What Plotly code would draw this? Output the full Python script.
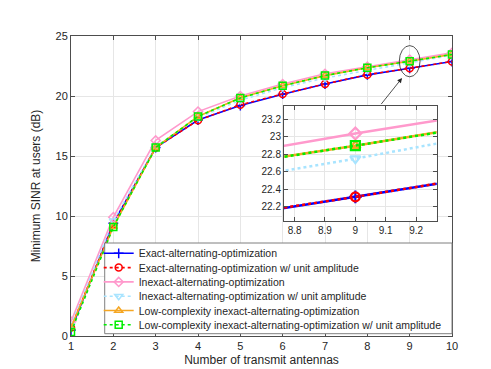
import plotly.graph_objects as go

# number of transmit antennas
antennas = [1, 2, 3, 4, 5, 6, 7, 8, 9, 10]

# minimum SINR (dB) per scheme
exact = [0.5, 9.4, 15.7, 18.0, 19.2, 20.15, 21.0, 21.76, 22.31, 22.87]
exact_unit = [0.7, 9.3, 15.7, 17.97, 19.27, 20.17, 21.0, 21.78, 22.31, 22.88]
inexact = [1.2, 9.9, 16.3, 18.7, 20.0, 21.0, 21.85, 22.44, 23.04, 23.6]
inexact_unit = [0.9, 9.6, 15.8, 18.2, 19.65, 20.7, 21.5, 22.15, 22.75, 23.4]
lowc = [0.7, 9.1, 15.7, 18.3, 19.85, 20.86, 21.7, 22.36, 22.9, 23.47]
lowc_unit = [0.33, 9.08, 15.7, 18.3, 19.83, 20.85, 21.7, 22.35, 22.9, 23.46]

names = [
    "Exact-alternating-optimization",
    "Exact-alternating-optimization w/ unit amplitude",
    "Inexact-alternating-optimization",
    "Inexact-alternating-optimization w/ unit amplitude",
    "Low-complexity inexact-alternating-optimization",
    "Low-complexity inexact-alternating-optimization w/ unit amplitude",
]
series = [exact, exact_unit, inexact, inexact_unit, lowc, lowc_unit]
colors = ["#0000ff", "#ff0000", "#ff99cc", "#a8e4ff", "#f5a623", "#00ee00"]
dashes = ["solid", "dot", "solid", "dot", "solid", "dot"]
symbols = ["cross-thin", "circle-open", "diamond-open", "triangle-down-open",
           "triangle-up-open", "square-open"]

fig = go.Figure()
legend_layout = {}
for i, (name, ys, c, d, s) in enumerate(zip(names, series, colors, dashes, symbols)):
    lg = "legend" if i == 0 else f"legend{i + 1}"
    mk = dict(symbol=s, size=7, color=c, line=dict(color=c, width=1.5))
    fig.add_trace(go.Scatter(x=antennas, y=ys, name=name, mode="lines+markers",
                             line=dict(color=c, width=1.6, dash=d), marker=mk, legend=lg))
    fig.add_trace(go.Scatter(x=antennas, y=ys, name=name, mode="lines+markers",
                             line=dict(color=c, width=2.5, dash=d),
                             marker=dict(mk, size=9, line=dict(color=c, width=2.2)),
                             xaxis="x2", yaxis="y2", showlegend=False))
    # one legend per entry so the rows can sit closer than plotly's default spacing
    cy = 245.3 + 14.3 * i
    legend_layout[lg] = dict(x=0.0727, xanchor="left", y=(328 - cy) / 300, yanchor="middle",
                             bgcolor="rgba(0,0,0,0)", borderwidth=0,
                             font=dict(size=10.5, color="#262626"))

axis_style = dict(showline=True, linecolor="#4d4d4d", linewidth=1, mirror="ticks",
                  ticks="inside", ticklen=4, tickcolor="#4d4d4d",
                  showgrid=True, gridcolor="#e6e6e6", zeroline=False,
                  tickfont=dict(size=11, color="#262626"))
inset_style = {**axis_style, "tickfont": dict(size=10, color="#262626")}

fig.update_layout(
    width=491, height=369,
    margin=dict(l=63, r=47, t=28, b=41),
    paper_bgcolor="white", plot_bgcolor="white",
    font=dict(family="Liberation Sans, Arial, sans-serif", color="#262626"),
    xaxis=dict(range=[1, 10], dtick=1,
               title=dict(text="Number of transmit antennas", font=dict(size=12), standoff=4),
               **axis_style),
    yaxis=dict(range=[0, 25], dtick=5,
               title=dict(text="Minimum SINR at users (dB)", font=dict(size=12), standoff=12),
               **axis_style),
    xaxis2=dict(domain=[0.559, 0.960], anchor="y2", range=[8.765, 9.268],
                tickvals=[8.8, 8.9, 9, 9.1, 9.2], **inset_style),
    yaxis2=dict(domain=[0.384, 0.767], anchor="x2", range=[22.034, 23.358],
                tickvals=[22.2, 22.4, 22.6, 22.8, 23, 23.2], **inset_style),
    showlegend=True,
    **legend_layout,
)

# legend box
fig.add_shape(type="rect", xref="paper", yref="paper", x0=0.0885, x1=1.0, y0=0.0077, y1=0.31,
              fillcolor="white", line=dict(color="#7f7f7f", width=1), layer="above")
# zoom marker
fig.add_shape(type="circle", xref="x", yref="y", x0=8.755, x1=9.245, y0=21.6, y1=24.2,
              line=dict(color="#262626", width=0.8))
fig.add_annotation(x=8.82, y=21.5, ax=8.3, ay=19.2, xref="x", yref="y",
                   axref="x", ayref="y", showarrow=True, arrowhead=2, arrowsize=1.2,
                   arrowwidth=0.8, arrowcolor="#262626", text="")

fig.write_html("out.html")
